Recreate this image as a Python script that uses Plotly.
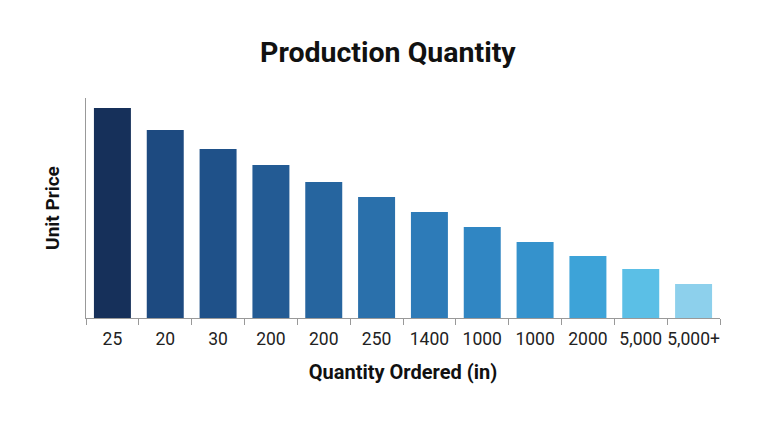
import plotly.graph_objects as go

labels = ["25", "20", "30", "200", "200", "250", "1400", "1000", "1000", "2000", "5,000", "5,000+"]
values = [210, 188, 169, 153, 136, 121, 106, 91, 76, 62, 49, 34]
colors = ["#16305a", "#1d4a80", "#1f5189", "#235b94", "#26659f", "#2a70ab",
          "#2d7bb8", "#3086c3", "#3592cc", "#3da3d8", "#5bbfe6", "#8dd0ec"]
x = list(range(len(labels)))

fig = go.Figure(go.Bar(x=x, y=values, marker=dict(color=colors, line=dict(width=0)), width=0.7))
fig.update_layout(
    width=780, height=426, paper_bgcolor="white", plot_bgcolor="white",
    margin=dict(l=78, r=68, t=90, b=116),
    font=dict(family="Roboto", color="#222"),
    title=dict(text="<b>Production Quantity</b>", x=0.487, xanchor="center", y=0.897, yanchor="middle",
               font=dict(size=28.5, color="#111")),
    showlegend=False,
)
fig.update_xaxes(range=[-0.5, 11.5], tickvals=x, ticktext=labels, ticks="", showline=True,
                 linecolor="#999", linewidth=1, tickfont=dict(size=17.5, color="#222"), showgrid=False,
                 ticklabelstandoff=5,
                 minor=dict(tickvals=[i - 0.5 for i in range(13)], ticks="outside", ticklen=6, tickcolor="#999"),
                 title=dict(text="<b>Quantity Ordered (in)</b>", font=dict(size=20, color="#111"), standoff=16))
fig.update_yaxes(range=[0, 220], showticklabels=False, ticks="", showgrid=False, showline=True,
                 linecolor="#999", linewidth=1, zeroline=False,
                 title=dict(text="<b>Unit Price</b>", font=dict(size=19, color="#111"), standoff=20))
fig.write_html("out.html")
